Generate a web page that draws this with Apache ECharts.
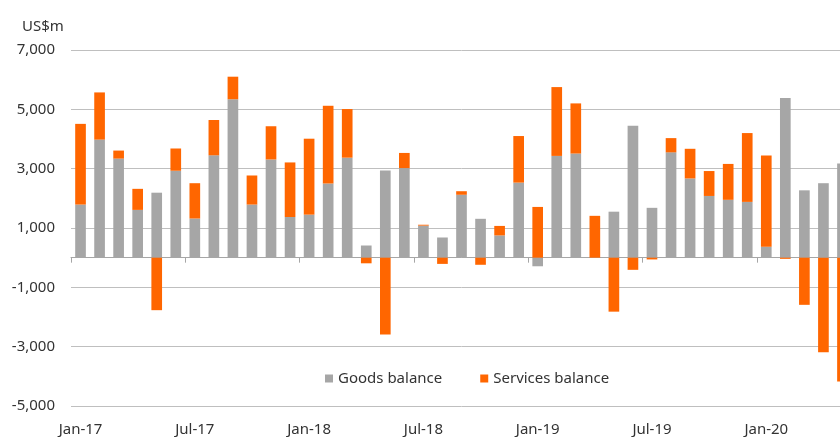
<!DOCTYPE html>
<html>
<head>
<meta charset="utf-8">
<script src="https://cdn.jsdelivr.net/npm/echarts@6/dist/echarts.min.js"></script>
<style>
html,body{margin:0;padding:0;background:#fff;overflow:hidden;width:840px;height:437px;}
#chart{width:852px;height:437px;}
</style>
</head>
<body>
<div id="chart"></div>
<script>
var months = ['Jan-17','Feb-17','Mar-17','Apr-17','May-17','Jun-17','Jul-17','Aug-17','Sep-17','Oct-17','Nov-17','Dec-17',
  'Jan-18','Feb-18','Mar-18','Apr-18','May-18','Jun-18','Jul-18','Aug-18','Sep-18','Oct-18','Nov-18','Dec-18',
  'Jan-19','Feb-19','Mar-19','Apr-19','May-19','Jun-19','Jul-19','Aug-19','Sep-19','Oct-19','Nov-19','Dec-19',
  'Jan-20','Feb-20','Mar-20','Apr-20','May-20'];
var goodsBalance = [1790,3980,3340,1610,2190,2930,1320,3450,5340,1790,3310,1370,
  1450,2500,3370,410,2940,3020,1080,680,2120,1310,750,2530,
  -290,3430,3510,0,1550,4450,1680,3550,2670,2080,1950,1880,
  370,5380,2270,2510,3170];
var servicesBalance = [2720,1590,270,710,-1770,750,1190,1190,760,980,1120,1840,
  2560,2620,1640,-190,-2590,510,30,-210,120,-240,320,1570,
  1710,2320,1690,1410,-1820,-410,-60,480,1000,840,1210,2320,
  3070,-40,-1590,-3190,-4170];
var yMin = -5000, yMax = 7000, yStep = 2000;
var unitLabel = 'US$m';

function fmt(v){
  var s = Math.abs(v).toString().replace(/\B(?=(\d{3})+(?!\d))/g, ',');
  return (v < 0 ? '-' : '') + s;
}
var FONT = 'Noto Sans';
var chart = echarts.init(document.getElementById('chart'), null, {renderer:'canvas'});
chart.setOption({
  animation:false,
  backgroundColor:'#fff',
  textStyle:{fontFamily:FONT},
  title:{text:unitLabel,left:17,top:14,textStyle:{fontFamily:FONT,fontSize:15,fontWeight:'normal',color:'#333'}},
  grid:{left:71,right:0,top:50,bottom:27,containLabel:false},
  legend:{left:320,top:366,itemWidth:8,itemHeight:8,itemGap:38,icon:'rect',
    textStyle:{fontFamily:FONT,fontSize:15,color:'#333'},
    data:['Goods balance','Services balance']},
  xAxis:[
    {type:'category',data:months,position:'bottom',
     axisLine:{show:false,onZero:false},axisTick:{show:false},
     axisLabel:{interval:5,margin:16,fontFamily:FONT,fontSize:15,color:'#333'},
     splitLine:{show:false}},
    {type:'category',data:months,position:'bottom',
     axisLine:{show:true,onZero:true,onZeroAxisIndex:0,lineStyle:{color:'#a6a6a6',width:1}},
     axisTick:{show:true,interval:5,length:5,inside:false,lineStyle:{color:'#a6a6a6'}},
     axisLabel:{show:false},splitLine:{show:false}}
  ],
  yAxis:[
    {type:'value',min:yMin,max:yMax,position:'right',show:false,splitLine:{show:false}},
    {type:'value',min:0,max:yMax-yMin,interval:yStep,position:'left',
     axisLine:{show:false},axisTick:{show:false},
     axisLabel:{margin:16,fontFamily:FONT,fontSize:15,color:'#333',
       formatter:function(v){return fmt(v+yMin);}},
     splitLine:{show:true,lineStyle:{color:'#bfbfbf',width:1}}}
  ],
  series:[
    {name:'Goods balance',type:'bar',stack:'bal',xAxisIndex:0,yAxisIndex:0,
     barWidth:'56%',itemStyle:{color:'#a6a6a6'},data:goodsBalance},
    {name:'Services balance',type:'bar',stack:'bal',xAxisIndex:0,yAxisIndex:0,
     barWidth:'56%',itemStyle:{color:'#ff6600'},data:servicesBalance}
  ]
});
</script>
</body>
</html>
